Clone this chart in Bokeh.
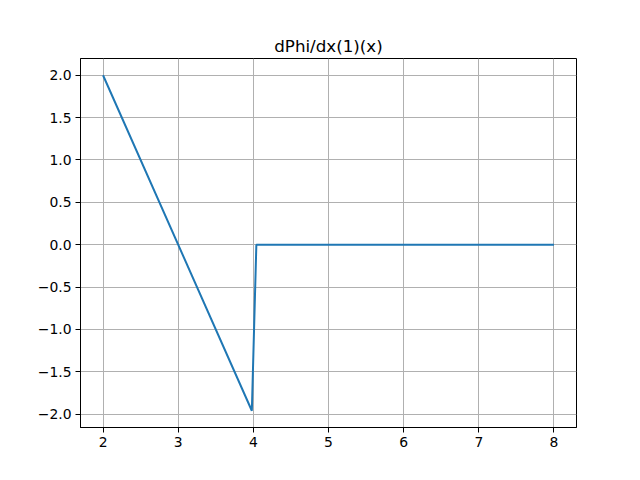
from bokeh.plotting import figure
from bokeh.models import Range1d, FixedTicker, CustomJSTickFormatter, Title
from bokeh.embed import file_html
from bokeh.resources import INLINE

# data (piecewise linear curve)
x_vals = [2.0, 3.98, 4.04, 8.0]
y_vals = [2.0, -1.96, 0.0, 0.0]
x_ticks = [2, 3, 4, 5, 6, 7, 8]
y_ticks = [-2.0, -1.5, -1.0, -0.5, 0.0, 0.5, 1.0, 1.5, 2.0]

p = figure(width=624, height=464, output_backend="svg", toolbar_location=None,
           x_range=Range1d(1.7, 8.3), y_range=Range1d(-2.158, 2.198),
           min_border_left=80, min_border_right=48, min_border_top=58, min_border_bottom=37)
p.title = None
p.add_layout(Title(text="dPhi/dx(1)(x)", align="center", text_font="DejaVu Sans",
                   text_font_size="16.7px", text_font_style="normal", text_color="black",
                   standoff=6), "above")

p.line(x_vals, y_vals, line_color="#1f77b4", line_width=2)

p.outline_line_color = "black"
p.outline_line_width = 1
for ax in (p.xaxis[0], p.yaxis[0]):
    ax.axis_line_color = "black"
    ax.major_tick_out = 5
    ax.major_tick_in = 0
    ax.minor_tick_line_color = None
    ax.major_label_text_font = "DejaVu Sans"
    ax.major_label_text_font_size = "13.9px"
    ax.major_label_text_color = "black"
    ax.major_label_standoff = 4
p.xaxis[0].ticker = FixedTicker(ticks=x_ticks)
p.yaxis[0].ticker = FixedTicker(ticks=y_ticks)
p.yaxis[0].formatter = CustomJSTickFormatter(
    code="var s = Math.abs(tick) < 1e-9 ? '0.0' : tick.toFixed(1); return s.replace('-', '\\u2212');")
p.xaxis[0].formatter = CustomJSTickFormatter(code="return tick.toFixed(0);")

p.xgrid.grid_line_color = "#b0b0b0"
p.ygrid.grid_line_color = "#b0b0b0"
p.xgrid.grid_line_width = 1
p.ygrid.grid_line_width = 1

open("out.html", "w").write(file_html(p, INLINE))
